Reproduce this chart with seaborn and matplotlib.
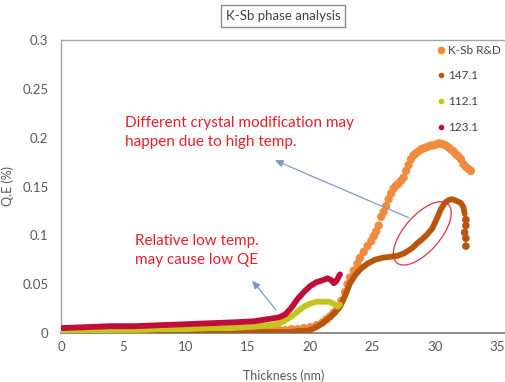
import numpy as np
import pandas as pd
import seaborn as sns
import matplotlib
matplotlib.use("Agg")
import matplotlib.pyplot as plt
from matplotlib.lines import Line2D
from matplotlib.patches import Ellipse
from matplotlib.transforms import ScaledTranslation

sns.set_theme(style="white")
plt.rcParams['font.family'] = ['Lato', 'DejaVu Sans']

# ---- data -------------------------------------------------------------
series_names = ["K-Sb R&D", "147.1", "112.1", "123.1"]
series_colors = ["#F08A3C", "#B8560F", "#C4C41A", "#C00D3A"]

ksb_x = [0.0, 0.5, 1.0, 1.5, 2.0, 2.5, 3.0, 3.5, 4.0, 4.5,
         5.0, 5.5, 6.0, 6.5, 7.0, 7.5, 8.0, 8.5, 9.0, 9.5,
         10.0, 10.5, 11.0, 11.5, 12.0, 12.5, 13.0, 13.5, 14.0, 14.5,
         15.0, 15.5, 16.0, 16.5, 17.0, 17.5, 18.0, 18.5,
         19.0, 19.5, 20.0, 20.5, 21.0,
         21.3, 21.6, 21.9, 22.2, 22.5, 22.8,
         23.0, 23.2, 23.5, 23.8,
         24.0, 24.3, 24.6, 24.9,
         25.1, 25.3, 25.5, 25.7, 25.9,
         26.1, 26.3, 26.5, 26.7, 26.9,
         27.1, 27.3, 27.5, 27.7, 27.9,
         28.1, 28.3, 28.5, 28.7, 28.9,
         29.1, 29.3, 29.5, 29.7, 29.9,
         30.1, 30.3, 30.5, 30.7, 30.9,
         31.1, 31.3, 31.5, 31.7, 31.9,
         32.1, 32.3, 32.5, 32.7, 32.9]
ksb_y = [0.001, 0.002, 0.001, 0.001, 0.002, 0.001, 0.001, 0.002, 0.001, 0.001,
         0.002, 0.001, 0.001, 0.002, 0.001, 0.001, 0.002, 0.001, 0.001, 0.002,
         0.001, 0.002, 0.001, 0.002, 0.002, 0.001, 0.002, 0.002, 0.002, 0.002,
         0.002, 0.003, 0.002, 0.003, 0.003, 0.003, 0.003, 0.004,
         0.004, 0.005, 0.006, 0.008, 0.011,
         0.014, 0.017, 0.021, 0.026, 0.033, 0.042,
         0.050, 0.057, 0.064, 0.071,
         0.077, 0.083, 0.089, 0.094,
         0.099, 0.104, 0.110, 0.119, 0.124,
         0.130, 0.137, 0.143, 0.148, 0.151,
         0.153, 0.156, 0.159, 0.166, 0.172,
         0.178, 0.182, 0.184, 0.186, 0.188,
         0.189, 0.190, 0.191, 0.192, 0.192,
         0.193, 0.194, 0.194, 0.193, 0.192,
         0.190, 0.188, 0.186, 0.183, 0.181,
         0.178, 0.173, 0.170, 0.168, 0.166]

s147_x = [0, 2, 4, 6, 8, 10, 12, 14, 16, 17, 18, 18.5,
          19, 19.5, 20, 20.5, 21, 21.5, 22,
          22.4, 22.8, 23.2, 23.6, 24.0, 24.6, 25.2, 25.8,
          26.4, 27.0, 27.6, 28.2, 28.6, 29.0, 29.4, 29.8,
          30.2, 30.5, 30.8, 31.1, 31.4, 31.8, 32.1, 32.3, 32.4]
s147_y = [0.001, 0.001, 0.001, 0.001, 0.001, 0.001, 0.001, 0.001, 0.001, 0.001, 0.001, 0.001,
          0.002, 0.002, 0.003, 0.006, 0.010, 0.015, 0.021,
          0.027, 0.038, 0.051, 0.059, 0.065, 0.071, 0.075, 0.077,
          0.078, 0.079, 0.082, 0.087, 0.092, 0.096, 0.101, 0.107,
          0.118, 0.127, 0.133, 0.136, 0.137, 0.135, 0.133, 0.129, 0.122]
s147_tail_x = [32.5, 32.5, 32.4, 32.5, 32.5]
s147_tail_y = [0.116, 0.110, 0.103, 0.097, 0.089]

s112_x = [0, 2, 4, 6, 8, 10, 12, 13.6, 15, 16, 16.8, 17.6,
          18.0, 18.5, 19.0, 19.5, 20.0, 20.5, 21.0, 21.5, 21.9, 22.2, 22.4]
s112_y = [0.002, 0.002, 0.003, 0.003, 0.004, 0.004, 0.005, 0.005, 0.006, 0.007, 0.008, 0.010,
          0.013, 0.017, 0.022, 0.027, 0.030, 0.032, 0.032, 0.032, 0.030, 0.027, 0.029]

s123_x = [0, 2, 4, 6, 8, 10, 12, 14, 15.5, 16.5, 17.5, 18.0,
          18.5, 19.0, 19.5, 20.0, 20.5, 21.0, 21.4, 21.7, 21.9, 22.1, 22.3, 22.4]
s123_y = [0.005, 0.006, 0.007, 0.007, 0.008, 0.009, 0.010, 0.011, 0.012, 0.014, 0.016, 0.019,
          0.026, 0.035, 0.042, 0.048, 0.052, 0.054, 0.056, 0.054, 0.051, 0.053, 0.058, 0.060]

x_ticks = [0, 5, 10, 15, 20, 25, 30, 35]
y_ticks = [0, 0.05, 0.1, 0.15, 0.2, 0.25, 0.3]
y_tick_labels = ["0", "0.05", "0.1", "0.15", "0.2", "0.25", "0.3"]

# ---- figure -----------------------------------------------------------
fig = plt.figure(figsize=(5.06, 3.82), dpi=100)
ax = fig.add_axes([61 / 506, 49 / 382, 445 / 506, 293 / 382])

sns.scatterplot(x=ksb_x, y=ksb_y, color=series_colors[0], s=36,
                edgecolor="none", ax=ax, zorder=2)
sns.lineplot(x=s147_x, y=s147_y, color=series_colors[1], linewidth=4.2,
             sort=False, ax=ax, zorder=3)
sns.scatterplot(x=s147_tail_x, y=s147_tail_y, color=series_colors[1], s=30,
                edgecolor="none", ax=ax, zorder=3)
sns.lineplot(x=s112_x, y=s112_y, color=series_colors[2], linewidth=4.2,
             sort=False, ax=ax, zorder=4)
sns.lineplot(x=s123_x, y=s123_y, color=series_colors[3], linewidth=4.2,
             sort=False, ax=ax, zorder=5)

ax.set_xlim(0, 35.72)
ax.set_ylim(0, 0.3)
ax.set_xticks(x_ticks)
ax.set_yticks(y_ticks)
ax.set_yticklabels(y_tick_labels)
ax.tick_params(axis="both", length=0, labelsize=9.5, colors="#595959")
ax.tick_params(axis="y", pad=9)
ax.tick_params(axis="x", pad=6)

for side in ["left", "top", "bottom"]:
    ax.spines[side].set_visible(True)
    ax.spines[side].set_color("#A6A6A6")
    ax.spines[side].set_linewidth(1.0)
ax.spines["bottom"].set_color("#8C8C8C")
ax.spines["bottom"].set_linewidth(1.4)
ax.spines["right"].set_visible(False)

ax.set_xlabel("Thickness (nm)", fontsize=9, color="#595959")
ax.set_ylabel("Q.E (%)", fontsize=9, color="#595959")
ax.xaxis.set_label_coords(0.5, -0.125)
ax.yaxis.set_label_coords(-0.105, 0.5)

# title in a box
fig.text(283 / 506, 1 - 16 / 382, "K-Sb phase analysis", ha="center", va="center",
         fontsize=9.5, color="#404040",
         bbox=dict(boxstyle="square,pad=0.35", facecolor="white",
                   edgecolor="#8C8C8C", linewidth=1.0))

# legend
handles = [Line2D([], [], marker="o", linestyle="", color=series_colors[0], markersize=4.5),
           Line2D([], [], marker="o", linestyle="", color=series_colors[1], markersize=3),
           Line2D([], [], marker="o", linestyle="", color=series_colors[2], markersize=3),
           Line2D([], [], marker="o", linestyle="", color=series_colors[3], markersize=3)]
leg = fig.legend(handles, series_names, loc="upper left",
                 bbox_to_anchor=(433 / 506, 1 - 40 / 382), frameon=False,
                 fontsize=8.5, handlelength=0.6, handletextpad=0.3,
                 labelspacing=1.25, borderaxespad=0)
for t in leg.get_texts():
    t.set_color("#404040")

# annotations
note_red = "#E61E2C"
arrow_col = "#7F99C8"
ax.text(5.14, 0.2055, "Different crystal modification may\nhappen due to high temp.",
        color=note_red, fontsize=11, ha="left", va="center", linespacing=1.45)
ax.text(5.95, 0.084, "Relative low temp.\nmay cause low QE",
        color=note_red, fontsize=11, ha="left", va="center", linespacing=1.45)
ax.annotate("", xy=(16.96, 0.178), xytext=(28.1, 0.117),
            arrowprops=dict(arrowstyle="-|>,head_length=0.4,head_width=0.18",
                            color=arrow_col, linewidth=0.9))
ax.annotate("", xy=(15.2, 0.056), xytext=(17.4, 0.0214),
            arrowprops=dict(arrowstyle="-|>,head_length=0.4,head_width=0.18",
                            color=arrow_col, linewidth=0.9))

ell_trans = fig.dpi_scale_trans + ScaledTranslation(29.0, 0.102, ax.transData)
ax.add_patch(Ellipse((0, 0), width=0.78, height=0.36, angle=49,
                     transform=ell_trans, fill=False, edgecolor="#E0303F",
                     linewidth=0.9, zorder=6))

fig.savefig("out.png", dpi=100)
